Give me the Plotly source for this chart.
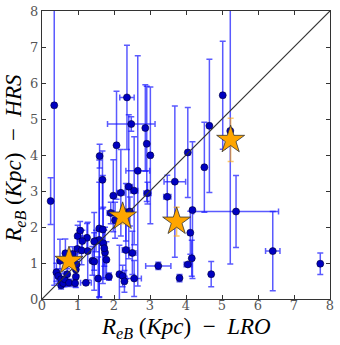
import plotly.graph_objects as go

# R_eB from LRO (x) vs HRS (y), in Kpc
lro = [0.24, 0.34, 2.36, 2.48, 2.07, 2.87, 2.91, 3.01, 1.60, 2.66,
       1.68, 2.41, 2.56, 2.19, 1.98, 2.93, 3.69, 4.05, 3.48, 5.02,
       4.65, 4.51, 5.23, 5.39, 4.18, 4.12, 6.41, 7.73, 4.16, 4.05,
       4.70, 3.82, 1.91, 2.03, 2.33, 2.44, 1.59, 1.69, 1.50, 1.59,
       1.70, 1.75, 1.79, 2.33, 2.51, 0.99, 1.06, 1.25, 1.12, 0.98,
       1.10, 1.27, 1.40, 1.45, 0.65, 0.85, 0.50, 0.40, 0.45, 0.53,
       0.53, 0.59, 0.63, 0.75, 0.70, 0.94, 0.92, 0.94, 0.96, 1.22,
       1.56, 1.86, 2.15, 2.24, 2.29, 2.56, 3.23, 1.45, 1.73]
hrs = [2.72, 5.38, 5.60, 4.86, 4.27, 4.75, 4.31, 3.99, 3.97, 3.56,
       3.31, 3.12, 3.01, 2.95, 2.87, 2.94, 3.26, 4.07, 2.84, 5.66,
       4.81, 3.66, 4.67, 2.43, 2.47, 1.84, 1.33, 0.98, 1.13, 0.96,
       0.69, 0.58, 2.39, 2.19, 2.41, 2.43, 1.96, 1.93, 1.61, 1.64,
       1.55, 1.29, 1.09, 1.36, 1.28, 1.75, 1.90, 1.70, 1.61, 1.39,
       1.35, 1.33, 1.06, 1.04, 1.27, 1.25, 1.06, 0.74, 0.64, 0.55,
       0.38, 0.44, 0.55, 0.45, 0.69, 0.62, 0.44, 0.82, 0.96, 0.45,
       0.57, 0.62, 0.69, 0.64, 0.49, 0.57, 0.92, 1.60, 1.41]
lro_err = [0.05, 0.05, 0.20, 0.66, 0.05, 0.05, 0.05, 0.05, 0.05, 0.33,
           0.05, 0.10, 0.10, 0.10, 0.05, 0.10, 0.30, 0.05, 0.10, 0.05,
           0.05, 0.05, 0.05, 1.18, 0.05, 0.05, 0.20, 0.05, 0.05, 0.10,
           0.05, 0.05, 0.10, 0.05, 0.05, 0.05, 0.05, 0.05, 0.05, 0.05,
           0.05, 0.05, 0.05, 0.10, 0.10, 0.05, 0.05, 0.05, 0.05, 0.05,
           0.05, 0.05, 0.05, 0.05, 0.05, 0.05, 0.05, 0.05, 0.05, 0.05,
           0.05, 0.05, 0.05, 0.05, 0.05, 0.05, 0.05, 0.05, 0.05, 0.15,
           0.05, 0.05, 0.05, 0.05, 0.05, 0.20, 0.35, 0.05, 0.05]
hrs_err = [0.65, 5.00, 1.45, 0.20, 1.50, 1.20, 1.60, 1.90, 0.33, 3.20,
           0.80, 2.00, 1.50, 1.20, 1.00, 0.30, 2.10, 1.25, 0.60, 1.50,
           1.85, 1.25, 3.70, 1.00, 1.90, 0.60, 1.10, 0.30, 0.50, 0.05,
           0.35, 0.10, 0.30, 0.50, 0.80, 0.40, 1.90, 1.50, 0.30, 1.60,
           1.00, 0.70, 0.50, 0.80, 0.60, 0.30, 0.25, 0.40, 0.30, 0.30,
           0.40, 0.80, 0.40, 0.80, 0.40, 0.20, 0.60, 0.25, 0.20, 0.15,
           0.10, 0.10, 0.20, 0.10, 0.15, 0.30, 0.10, 0.20, 0.30, 0.05,
           0.60, 0.10, 0.80, 0.30, 0.30, 0.50, 0.10, 0.80, 0.50]

# highlighted objects (stars)
star_lro = [0.75, 2.24, 3.74, 5.24]
star_hrs = [1.06, 2.29, 2.15, 4.42]
star_err = [0.15, 0.20, 0.40, 0.60]

axis_max = 8
ticks = [0, 1, 2, 3, 4, 5, 6, 7, 8]

fig = go.Figure()

fig.add_trace(go.Scatter(
    x=lro, y=hrs, mode="markers",
    error_x=dict(type="data", array=lro_err, color="rgba(20,20,255,0.7)", thickness=1.5, width=3),
    error_y=dict(type="data", array=hrs_err, color="rgba(20,20,255,0.7)", thickness=1.5, width=3),
    marker=dict(color="#0000c0", size=7, line=dict(color="#000033", width=0.6)),
    showlegend=False))

fig.add_trace(go.Scatter(
    x=[0, axis_max], y=[0, axis_max], mode="lines",
    line=dict(color="#333333", width=1.2), showlegend=False))

fig.add_trace(go.Scatter(
    x=star_lro, y=star_hrs, mode="markers",
    error_y=dict(type="data", array=star_err, color="rgba(255,165,0,0.6)", thickness=1.5, width=3),
    marker=dict(symbol="star", color="#ffa500", size=21, line=dict(color="#333333", width=0.8)),
    showlegend=False))

axis_style = dict(range=[0, axis_max], tickvals=ticks, showgrid=False, zeroline=False,
                  showline=True, linecolor="#333333", linewidth=1, mirror="ticks",
                  ticks="inside", ticklen=4, tickcolor="#333333", automargin=False,
                  tickfont=dict(family="DejaVu Serif", size=13, color="#555555"))

fig.update_xaxes(**axis_style, ticklabelstandoff=-6)
fig.update_yaxes(**axis_style)

title_font = dict(family="Liberation Serif", size=23, color="black")
fig.add_annotation(text="<i>R</i><sub><i>eB</i></sub> (<i>Kpc</i>)  −  <i>LRO</i>",
                   xref="paper", yref="paper", x=0.5, y=-0.1, yanchor="middle",
                   showarrow=False, font=title_font)
fig.add_annotation(text="<i>R</i><sub><i>eB</i></sub> (<i>Kpc</i>)  −  <i>HRS</i>",
                   xref="paper", yref="paper", x=-0.094, y=0.49, xanchor="center",
                   textangle=-90, showarrow=False, font=title_font)

fig.update_layout(width=340, height=345, margin=dict(l=42, r=10, t=11, b=46),
                  plot_bgcolor="white", paper_bgcolor="white")

# drop the default 8px body margin so the figure sits at the page corner
fig.write_html("out.html", config={"displayModeBar": False},
               post_script="document.body.style.margin='0';")
